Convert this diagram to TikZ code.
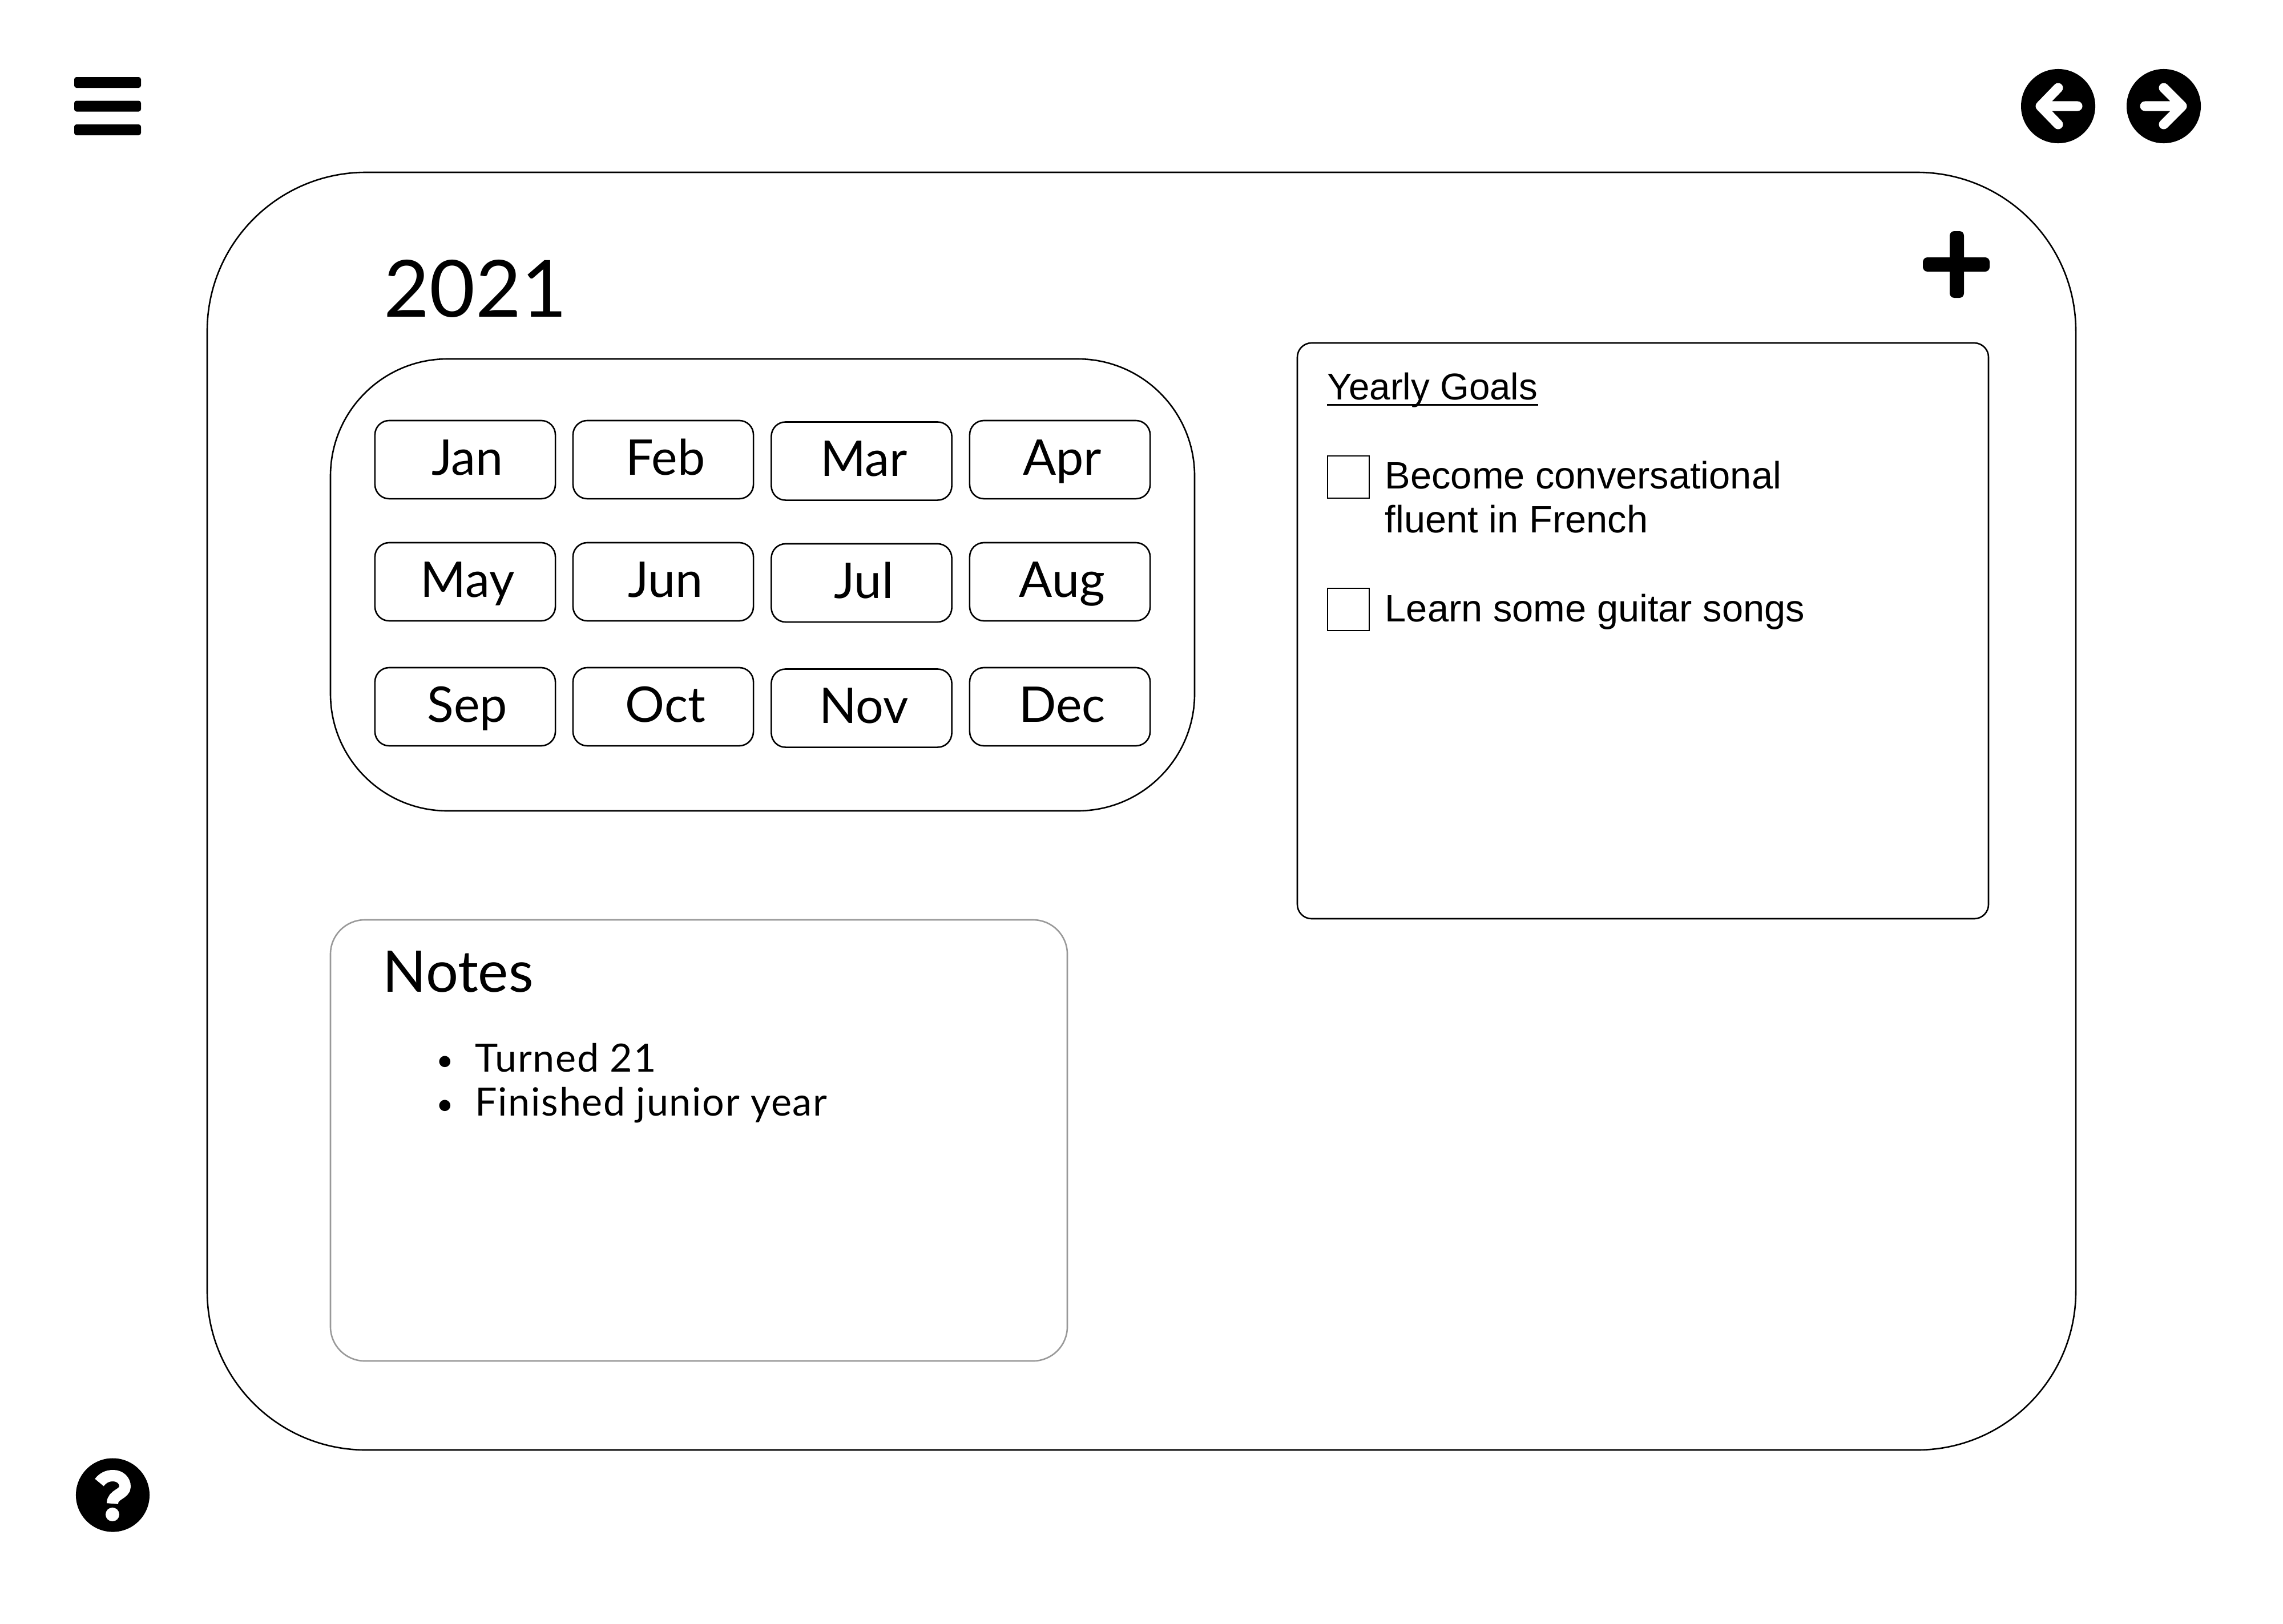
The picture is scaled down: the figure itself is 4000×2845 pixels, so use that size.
\documentclass[tikz,border=0pt]{standalone}
\usepackage{fontspec}
\setmainfont{Lato}
\newfontfamily\goalfont{Liberation Sans}
\newfontfamily\notefont[LetterSpace=2.5]{Lato}

\tikzset{
	panel/.style={draw=black, line width=.026cm},
	monthbox/.style={panel, rounded corners=.25cm, minimum width=3.16cm, minimum height=1.37cm, inner sep=0pt,
		text height=.69cm, text depth=.16cm, font=\fontsize{24.5}{29}\selectfont},
	goaltext/.style={anchor=base west, inner sep=0pt, font=\goalfont\fontsize{19}{23}\selectfont},
	notetext/.style={anchor=base west, inner sep=0pt, font=\notefont\fontsize{19.4}{23}\selectfont},
	headtext/.style={anchor=base west, inner sep=0pt},
	bulletmark/.style={inner sep=0pt, font=\fontsize{15}{18}\selectfont},
	navarrow/.style={draw=white, line width=.17cm, line cap=round, line join=round}
}

\begin{document}
\begin{tikzpicture}[x=.01cm, y=-.01cm]
	\useasboundingbox (0,0) rectangle (4000,2845);

	% menu
	\foreach \bary in {135,176.5,218}
		\fill[rounded corners=.04cm] (130,\bary) rectangle (247,\bary+19);

	% back and forward
	\fill (3606,186) circle(.65cm);
	\fill (3791,186) circle(.65cm);
	\draw[navarrow] (3606,154) -- (3575,186) -- (3606,218) (3575,186) -- (3640,186);
	\draw[navarrow] (3791,154) -- (3823,186) -- (3791,218) (3823,186) -- (3758,186);

	% help
	\fill (197.5,2620) circle(.645cm);
	\draw[white, line width=.2cm] (174,2598) .. controls (180,2590) and (188,2586) .. (198,2586)
		.. controls (211,2586) and (219,2595) .. (219,2605)
		.. controls (219,2619) and (197,2618) .. (197,2635);
	\fill[white] (197,2654) circle(.12cm);

	% page
	\draw[panel, rounded corners=2.78cm] (363,302) rectangle (3637,2541);
	\node[headtext, font=\fontsize{39.3}{47}\selectfont] (year) at (672,555) {2021};

	% add
	\fill[rounded corners=.08cm] (3416,405) rectangle (3441,522);
	\fill[rounded corners=.08cm] (3369,451) rectangle (3486,476);

	% months
	\draw[panel, rounded corners=2.05cm] (579,629) rectangle (2093,1421);
	\foreach \monthname/\mx/\my in {Jan/815/805.5, Feb/1162/805.5, Mar/1509.5/808, Apr/1857/805.5,
		May/815/1019.5, Jun/1162/1019.5, Jul/1509.5/1021.5, Aug/1857/1019.5,
		Sep/815/1238.5, Oct/1162/1238.5, Nov/1509.5/1241, Dec/1857/1238.5}
		\node[monthbox] (\monthname) at (\mx,\my) {\hspace*{.08cm}\monthname};

	% notes
	\draw[draw=black!40, line width=.026cm, rounded corners=.6cm] (579,1612) rectangle (1870,2385);
	\node[headtext, font=\fontsize{28.6}{34}\selectfont] (notes) at (670,1738) {Notes};
	\node[notetext] (turned) at (832,1878) {Turned 21};
	\node[notetext] (finished) at (832,1955) {Finished junior year};
	\node[bulletmark] (bulleta) at (780,1864) {•};
	\node[bulletmark] (bulletb) at (780,1941) {•};

	% goals
	\draw[panel, rounded corners=.25cm] (2273,601) rectangle (3484,1610);
	\node[goaltext, font=\goalfont\fontsize{18.6}{23}\selectfont] (goals) at (2325,700) {Yearly Goals};
	\draw[line width=.03cm] ([yshift=-.09cm]goals.base west) -- ([yshift=-.09cm]goals.base east);
	\draw[panel] (2326,799) rectangle (2399,873);
	\node[goaltext] (conversational) at (2426,856) {Become conversational};
	\node[goaltext] (french) at (2426,933) {fluent in French};
	\draw[panel] (2326,1031) rectangle (2399,1105);
	\node[goaltext] (guitar) at (2426,1089) {Learn some guitar songs};
\end{tikzpicture}
\end{document}
